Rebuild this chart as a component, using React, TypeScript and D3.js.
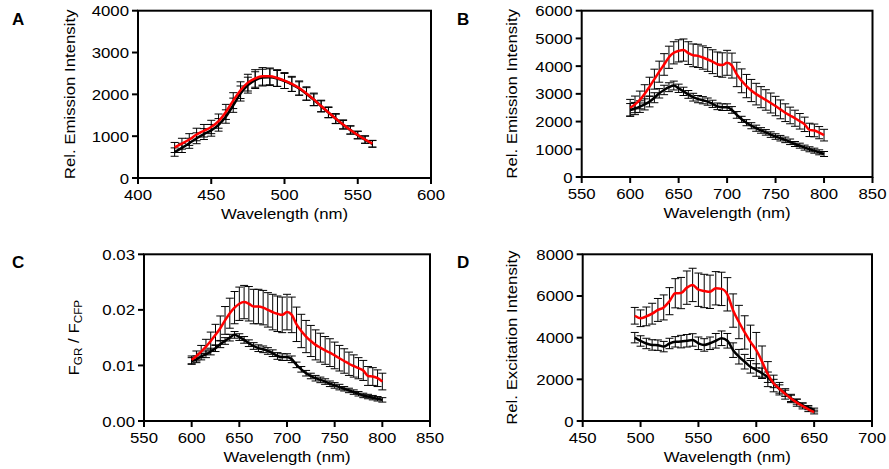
import React from "react";
import * as d3 from "d3";

// ---------- DATA ----------
const wlA = d3.range(425, 561, 5);
const redA = [730, 820, 920, 1040, 1130, 1220, 1360, 1580, 1850, 2100, 2280, 2380, 2430, 2430, 2390, 2330, 2250, 2150, 2020, 1880, 1720, 1570, 1420, 1280, 1150, 1030, 920, 820];
const blackA = [620, 720, 830, 950, 1050, 1140, 1270, 1470, 1740, 2020, 2220, 2340, 2400, 2410, 2380, 2320, 2240, 2140, 2010, 1870, 1715, 1565, 1415, 1275, 1145, 1025, 915, 815];
const redErrA = [120, 130, 140, 150, 150, 160, 170, 180, 190, 200, 200, 210, 210, 200, 200, 190, 180, 170, 160, 150, 140, 130, 120, 110, 100, 90, 90, 80];
const blackErrA = [100, 110, 120, 130, 130, 140, 150, 160, 170, 180, 190, 200, 200, 200, 190, 180, 170, 160, 150, 140, 130, 120, 110, 100, 95, 90, 85, 80];

const wlB = d3.range(600, 801, 5);
const redB = [2500, 2620, 2780, 3000, 3260, 3530, 3800, 4060, 4320, 4480, 4550, 4580, 4470, 4390, 4370, 4310, 4240, 4160, 4070, 4040, 4120, 4020, 3700, 3470, 3280, 3120, 2990, 2880, 2780, 2670, 2560, 2440, 2320, 2220, 2120, 2010, 1900, 1700, 1680, 1600, 1510];
const blackB = [2420, 2470, 2540, 2620, 2720, 2860, 3020, 3140, 3240, 3300, 3200, 3090, 2980, 2880, 2810, 2770, 2720, 2640, 2550, 2520, 2520, 2420, 2240, 2080, 1960, 1850, 1760, 1680, 1610, 1530, 1460, 1400, 1340, 1270, 1190, 1130, 1060, 1000, 950, 890, 830];
const redErrB = [300, 300, 320, 330, 340, 360, 380, 390, 400, 400, 400, 400, 410, 410, 420, 420, 430, 430, 440, 440, 450, 450, 440, 430, 420, 400, 390, 380, 370, 360, 350, 340, 320, 300, 290, 280, 260, 240, 230, 220, 210];
const blackErrB = [230, 220, 210, 200, 190, 180, 170, 170, 160, 160, 150, 150, 140, 140, 130, 130, 130, 130, 120, 120, 120, 120, 120, 110, 110, 110, 110, 100, 100, 100, 100, 100, 100, 100, 90, 90, 90, 90, 90, 90, 90];

const wlC = d3.range(600, 801, 5);
const redC = [0.0110, 0.0117, 0.0125, 0.0134, 0.0144, 0.0155, 0.0167, 0.0181, 0.0194, 0.0204, 0.0211, 0.0214, 0.0211, 0.0206, 0.0206, 0.0204, 0.0200, 0.0196, 0.0193, 0.0191, 0.0196, 0.0191, 0.0174, 0.0162, 0.0152, 0.0144, 0.0137, 0.0132, 0.0127, 0.0123, 0.0118, 0.0113, 0.0108, 0.0103, 0.0099, 0.0095, 0.0091, 0.0081, 0.0080, 0.0077, 0.0071];
const blackC = [0.0108, 0.0111, 0.0116, 0.0120, 0.0125, 0.0131, 0.0138, 0.0144, 0.0150, 0.0155, 0.0151, 0.0146, 0.0140, 0.0135, 0.0131, 0.0129, 0.0126, 0.0122, 0.0117, 0.0115, 0.0115, 0.0111, 0.0101, 0.0093, 0.0086, 0.0081, 0.0077, 0.0074, 0.0071, 0.0067, 0.0064, 0.0061, 0.0058, 0.0055, 0.0052, 0.0049, 0.0046, 0.0044, 0.0042, 0.0040, 0.0038];
const redErrC = [0.0007, 0.0009, 0.0011, 0.0013, 0.0016, 0.0019, 0.0022, 0.0025, 0.0027, 0.0029, 0.0030, 0.0030, 0.0031, 0.0031, 0.0031, 0.0031, 0.0031, 0.0032, 0.0032, 0.0032, 0.0032, 0.0032, 0.0031, 0.0030, 0.0029, 0.0028, 0.0027, 0.0026, 0.0025, 0.0025, 0.0024, 0.0023, 0.0022, 0.0021, 0.0020, 0.0019, 0.0018, 0.0017, 0.0016, 0.0015, 0.0015];
const blackErrC = [0.0006, 0.0006, 0.0006, 0.0006, 0.0006, 0.0006, 0.0006, 0.0006, 0.0006, 0.0006, 0.0006, 0.0006, 0.0006, 0.0006, 0.0006, 0.0006, 0.0006, 0.0006, 0.0006, 0.0006, 0.0006, 0.0006, 0.0005, 0.0005, 0.0005, 0.0005, 0.0005, 0.0005, 0.0005, 0.0005, 0.0005, 0.0005, 0.0004, 0.0004, 0.0004, 0.0004, 0.0004, 0.0004, 0.0004, 0.0004, 0.0004];

const wlD = d3.range(495, 651, 5);
const redD = [5050, 4930, 5020, 5150, 5330, 5450, 5750, 6130, 6140, 6400, 6530, 6300, 6240, 6200, 6370, 6340, 6080, 5300, 4750, 4250, 3800, 3400, 2850, 2250, 1800, 1550, 1300, 1080, 880, 720, 560, 430];
const blackD = [4000, 3840, 3720, 3650, 3640, 3570, 3720, 3800, 3810, 3850, 3890, 3730, 3650, 3730, 3850, 3970, 3850, 3400, 3085, 2846, 2600, 2447, 2290, 2100, 1800, 1535, 1330, 1087, 927, 768, 640, 528];
const redErrD = [400, 400, 450, 500, 550, 600, 650, 700, 750, 800, 800, 800, 800, 800, 800, 800, 800, 800, 800, 800, 800, 850, 750, 600, 400, 300, 250, 200, 170, 140, 110, 90];
const blackErrD = [250, 250, 250, 250, 250, 250, 250, 250, 300, 300, 300, 300, 300, 300, 350, 350, 350, 350, 350, 350, 300, 300, 250, 250, 200, 200, 150, 150, 120, 100, 100, 90];

const xTicksA = [400, 450, 500, 550, 600];
const yTicksA = [0, 1000, 2000, 3000, 4000];
const xTicksB = [550, 600, 650, 700, 750, 800, 850];
const yTicksB = [0, 1000, 2000, 3000, 4000, 5000, 6000];
const xTicksC = [550, 600, 650, 700, 750, 800, 850];
const yTicksC = [0, 0.01, 0.02, 0.03];
const xTicksD = [450, 500, 550, 600, 650, 700];
const yTicksD = [0, 2000, 4000, 6000, 8000];

const FONT = "'Liberation Sans', Arial, Helvetica, sans-serif";
const FS = 15;
const SX = 1.12;

function Txt(props: {
  x: number;
  y: number;
  anchor?: string;
  rotate?: number;
  size?: number;
  children: React.ReactNode;
}) {
  const r = props.rotate ? ` rotate(${props.rotate})` : "";
  return (
    <text
      transform={`translate(${props.x},${props.y})${r} scale(${SX},1)`}
      fontSize={props.size ?? FS}
      textAnchor={props.anchor ?? "start"}
    >
      {props.children}
    </text>
  );
}

type PanelProps = {
  letter: string;
  box: { l: number; r: number; t: number; b: number };
  xDom: [number, number];
  yDom: [number, number];
  xTicks: number[];
  yTicks: number[];
  yFmt: (v: number) => string;
  wl: number[];
  red: number[];
  black: number[];
  redErr: number[];
  blackErr: number[];
  yTitle: React.ReactNode;
  yTitleX: number;
  letterX: number;
  letterY: number;
};

function Panel(p: PanelProps) {
  const x = d3.scaleLinear().domain(p.xDom).range([p.box.l, p.box.r]);
  const y = d3.scaleLinear().domain(p.yDom).range([p.box.b, p.box.t]);
  const line = d3
    .line<number>()
    .x((_, i) => x(p.wl[i]))
    .y((d) => y(d))
    .curve(d3.curveMonotoneX);
  const cap = 4;
  const bars = (vals: number[], errs: number[], key: string) =>
    vals.map((v, i) => {
      const cx = x(p.wl[i]);
      const y1 = y(v + errs[i]);
      const y2 = y(v - errs[i]);
      return (
        <g key={key + i} stroke="#000" strokeWidth={1}>
          <line x1={cx} x2={cx} y1={y1} y2={y2} />
          <line x1={cx - cap} x2={cx + cap} y1={y1} y2={y1} />
          <line x1={cx - cap} x2={cx + cap} y1={y2} y2={y2} />
        </g>
      );
    });
  const midY = (p.box.t + p.box.b) / 2;
  return (
    <g fontFamily={FONT}>
      <text x={p.letterX} y={p.letterY} fontSize={17} fontWeight="bold">
        {p.letter}
      </text>
      {bars(p.black, p.blackErr, "b")}
      {bars(p.red, p.redErr, "r")}
      <path d={line(p.black) || ""} fill="none" stroke="#000" strokeWidth={2.5} />
      <path d={line(p.red) || ""} fill="none" stroke="#ff0000" strokeWidth={2.5} />
      <rect
        x={p.box.l}
        y={p.box.t}
        width={p.box.r - p.box.l}
        height={p.box.b - p.box.t}
        fill="none"
        stroke="#000"
        strokeWidth={2}
      />
      {p.xTicks.map((t) => (
        <g key={"xt" + t}>
          <line x1={x(t)} x2={x(t)} y1={p.box.b} y2={p.box.b + 6} stroke="#000" strokeWidth={2} />
          <Txt x={x(t)} y={p.box.b + 21.5} anchor="middle">
            {t}
          </Txt>
        </g>
      ))}
      {p.yTicks.map((t) => (
        <g key={"yt" + t}>
          <line x1={p.box.l - 6} x2={p.box.l} y1={y(t)} y2={y(t)} stroke="#000" strokeWidth={2} />
          <Txt x={p.box.l - 9} y={y(t) + 5.5} anchor="end">
            {p.yFmt(t)}
          </Txt>
        </g>
      ))}
      <Txt x={(p.box.l + p.box.r) / 2} y={p.box.b + 40.5} anchor="middle">
        Wavelength (nm)
      </Txt>
      <Txt x={p.yTitleX} y={midY} rotate={-90} anchor="middle">
        {p.yTitle}
      </Txt>
    </g>
  );
}

export default function App() {
  const intFmt = (v: number) => String(v);
  const decFmt = (v: number) => v.toFixed(2);
  return (
    <svg
      width={889}
      height={469}
      style={{ position: "absolute", left: 0, top: 0, background: "#fff" }}
    >
      <rect width={889} height={469} fill="#fff" />
      <Panel
        letter="A"
        box={{ l: 138, r: 431, t: 10.7, b: 178 }}
        xDom={[400, 600]}
        yDom={[0, 4000]}
        xTicks={xTicksA}
        yTicks={yTicksA}
        yFmt={intFmt}
        wl={wlA}
        red={redA}
        black={blackA}
        redErr={redErrA}
        blackErr={blackErrA}
        yTitle="Rel. Emission Intensity"
        yTitleX={75}
        letterX={12}
        letterY={25}
      />
      <Panel
        letter="B"
        box={{ l: 581.7, r: 872.5, t: 10.7, b: 177 }}
        xDom={[550, 850]}
        yDom={[0, 6000]}
        xTicks={xTicksB}
        yTicks={yTicksB}
        yFmt={intFmt}
        wl={wlB}
        red={redB}
        black={blackB}
        redErr={redErrB}
        blackErr={blackErrB}
        yTitle="Rel. Emission Intensity"
        yTitleX={517}
        letterX={457}
        letterY={25}
      />
      <Panel
        letter="C"
        box={{ l: 144, r: 430, t: 254.3, b: 421 }}
        xDom={[550, 850]}
        yDom={[0, 0.03]}
        xTicks={xTicksC}
        yTicks={yTicksC}
        yFmt={decFmt}
        wl={wlC}
        red={redC}
        black={blackC}
        redErr={redErrC}
        blackErr={blackErrC}
        yTitle={
          <>
            <tspan>F</tspan>
            <tspan fontSize={10.5} dy={3}>GR</tspan>
            <tspan dy={-3}> / F</tspan>
            <tspan fontSize={10.5} dy={3}>CFP</tspan>
          </>
        }
        yTitleX={79}
        letterX={12}
        letterY={268}
      />
      <Panel
        letter="D"
        box={{ l: 582.7, r: 872, t: 254.3, b: 421 }}
        xDom={[450, 700]}
        yDom={[0, 8000]}
        xTicks={xTicksD}
        yTicks={yTicksD}
        yFmt={intFmt}
        wl={wlD}
        red={redD}
        black={blackD}
        redErr={redErrD}
        blackErr={blackErrD}
        yTitle="Rel. Excitation Intensity"
        yTitleX={517}
        letterX={457}
        letterY={268}
      />
    </svg>
  );
}
